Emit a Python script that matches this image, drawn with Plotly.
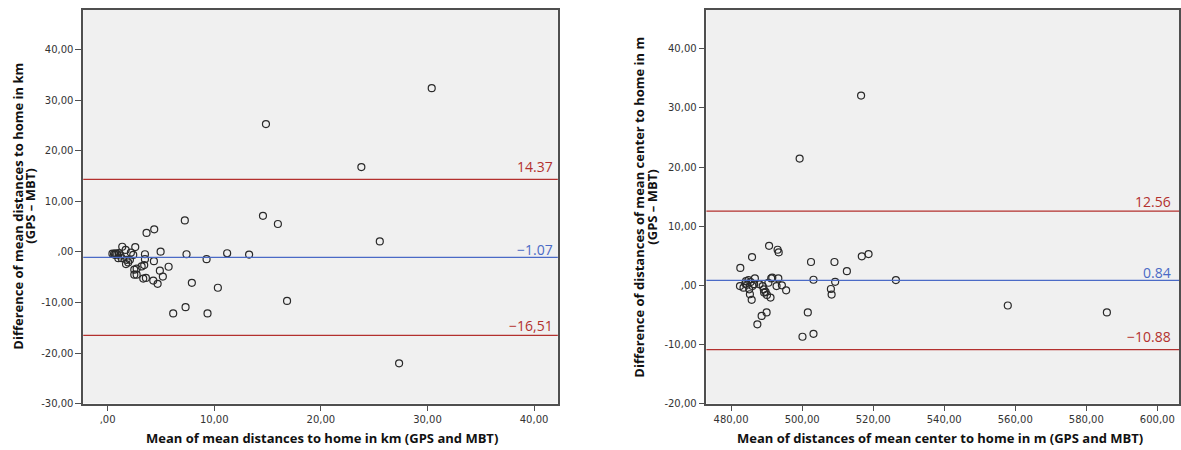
import plotly.graph_objects as go

# ---------------- data ----------------
left_mean = [0.45, 0.6, 0.75, 0.9, 1.05, 0.7, 1.2,
             1.37, 2.59, 1.69, 2.18, 2.4,
             1.0, 1.31, 1.78, 1.93, 1.72, 2.09,
             3.5, 3.5, 3.43, 3.19, 2.72, 2.5, 2.5, 2.72, 3.34, 3.59,
             4.34, 4.97, 3.65, 4.37,
             7.24, 14.57, 15.97,
             7.4, 9.28, 11.21, 13.27,
             4.9, 5.72, 5.18, 4.28, 4.69, 7.9, 10.34,
             7.31, 6.15, 9.37, 16.83,
             30.4, 14.85, 23.8, 25.53, 27.34]
left_diff = [-0.35, -0.4, -0.3, -0.45, -0.25, -0.6, -0.7,
             1.03, 0.97, 0.39, -0.14, -0.59,
             -1.24, -1.24, -1.56, -2.08, -2.41, -1.56,
             -0.46, -1.43, -2.6, -2.87, -3.32, -3.5, -4.49, -4.49, -5.27, -5.14,
             -1.83, 0.06, 3.76, 4.48,
             6.24, 7.15, 5.53,
             -0.46, -1.44, -0.26, -0.53,
             -3.7, -2.93, -4.88, -5.66, -6.31, -6.11, -7.09,
             -10.92, -12.16, -12.16, -9.69,
             32.4, 25.3, 16.8, 2.08, -22.04]

right_mean = [482.6, 485.9, 490.7, 493.1, 493.4, 502.5, 509.1, 512.6, 516.8, 518.7,
              503.2, 509.3, 508.1, 508.3, 501.6, 500.1, 503.2,
              487.4, 488.6, 490.0,
              482.5, 483.5, 484.2, 484.9, 485.5, 485.1, 485.3, 485.8, 486.7, 486.5,
              488.0, 488.9, 489.2, 489.3, 489.7, 490.1, 491.1, 490.5, 491.3, 491.6,
              493.3, 492.8, 494.3, 495.5, 484.0, 486.0, 484.5,
              516.6, 499.3, 526.4, 557.9, 585.8]
right_diff = [2.94, 4.78, 6.69, 6.02, 5.57, 3.95, 3.95, 2.39, 4.9, 5.28,
              0.94, 0.6, -0.62, -1.57, -4.58, -8.7, -8.2,
              -6.59, -5.18, -4.58,
              -0.12, -0.4, 0.72, 0.89, 0.55, -0.67, -1.51, -2.46, 1.17, 0.2,
              0.17, -0.12, -0.67, -1.23, -1.1, -1.62, -2.07, 0.44, 1.17, 1.3,
              1.17, -0.12, 0.0, -0.84, 0.3, -0.1, 0.1,
              32.1, 21.45, 0.89, -3.41, -4.58]

left_lines = [14.37, -1.07, -16.51]
left_labels = ["14.37", "\u22121.07", "\u221216,51"]
right_lines = [12.56, 0.84, -10.88]
right_labels = ["12.56", "0.84", "\u221210.88"]

left_xticks = [0, 10, 20, 30, 40]
left_xticktext = [",00", "10,00", "20,00", "30,00", "40,00"]
left_yticks = [-30, -20, -10, 0, 10, 20, 30, 40]
left_yticktext = ["-30,00", "-20,00", "-10,00", ",00", "10,00", "20,00", "30,00", "40,00"]
right_xticks = [480, 500, 520, 540, 560, 580, 600]
right_xticktext = ["480,00", "500,00", "520,00", "540,00", "560,00", "580,00", "600,00"]
right_yticks = [-20, -10, 0, 10, 20, 30, 40]
right_yticktext = ["-20,00", "-10,00", ",00", "10,00", "20,00", "30,00", "40,00"]

left_xtitle = "Mean of mean distances to home in km (GPS and MBT)"
left_ytitle = ["Difference of mean distances to home in km", "(GPS \u2013 MBT)"]
right_xtitle = "Mean of distances of mean center to home in m (GPS and MBT)"
right_ytitle = ["Difference of distances of mean center to home in m", "(GPS \u2013 MBT)"]

# ---------------- styling ----------------
W, H = 1181, 450
RED = "#B3302E"
BLUE = "#4A6AC6"
line_colors = [RED, BLUE, RED]
label_shift_left = [13, 8, 10]
label_shift_right = [10, 8, 13]
FRAME = "#4f4f4f"
TICKFONT = dict(family="DejaVu Sans", size=10, color="#333333")
TITLEFONT = dict(family="Open Sans", size=13, color="#111111")
LABELFONT = "Open Sans"

fig = go.Figure()
marker = dict(symbol="circle-open", size=7, color="#2a2a2a", line=dict(width=1.2, color="#2a2a2a"))
fig.add_trace(go.Scatter(x=left_mean, y=left_diff, mode="markers", marker=marker,
                         xaxis="x", yaxis="y", showlegend=False, hoverinfo="x+y"))
fig.add_trace(go.Scatter(x=right_mean, y=right_diff, mode="markers", marker=marker,
                         xaxis="x2", yaxis="y2", showlegend=False, hoverinfo="x+y"))

shapes = []
annotations = []
for xa, ya, vals, labs, shifts, xpos in [("x", "y", left_lines, left_labels, label_shift_left, 0.993),
                                         ("x2", "y2", right_lines, right_labels, label_shift_right, 0.988)]:
    for v, lab, c, s in zip(vals, labs, line_colors, shifts):
        shapes.append(dict(type="line", xref=xa + " domain", yref=ya, x0=0, x1=1, y0=v, y1=v,
                           line=dict(color=c, width=1.3), layer="above"))
        annotations.append(dict(xref=xa + " domain", yref=ya, x=xpos, y=v, text=lab, showarrow=False,
                                xanchor="right", yanchor="middle", yshift=s,
                                font=dict(family=LABELFONT, size=14, color=c)))

def px_x(p):
    return p / W

def px_y(p):
    return 1 - p / H

# axis titles
annotations.append(dict(xref="paper", yref="paper", x=px_x(322), y=px_y(443.5), text="<b>%s</b>" % left_xtitle,
                        showarrow=False, xanchor="center", yanchor="middle", font=TITLEFONT))
annotations.append(dict(xref="paper", yref="paper", x=px_x(941), y=px_y(443.5), text="<b>%s</b>" % right_xtitle,
                        showarrow=False, xanchor="center", yanchor="middle", font=TITLEFONT))
for xp, t in zip([18.5, 30.5], left_ytitle):
    annotations.append(dict(xref="paper", yref="paper", x=px_x(xp), y=px_y(209), text="<b>%s</b>" % t,
                            showarrow=False, textangle=-90, xanchor="center", yanchor="middle", font=TITLEFONT))
for xp, t in zip([640, 653], right_ytitle):
    annotations.append(dict(xref="paper", yref="paper", x=px_x(xp), y=px_y(210), text="<b>%s</b>" % t,
                            showarrow=False, textangle=-90, xanchor="center", yanchor="middle", font=TITLEFONT))

axis_common = dict(showline=True, linecolor=FRAME, linewidth=1.5, mirror=True, ticks="outside",
                   ticklen=6, tickwidth=1, tickcolor=FRAME, showgrid=False, zeroline=False,
                   tickfont=TICKFONT, fixedrange=True)

ydom = [1 - 409 / H, 1 - 10 / H]
fig.update_layout(
    width=W, height=H,
    margin=dict(l=0, r=0, t=0, b=0),
    paper_bgcolor="white",
    plot_bgcolor="#F0F0F0",
    showlegend=False,
    xaxis=dict(domain=[83.3 / W, 558.3 / W], range=[-2.29, 42.23], anchor="y",
               tickvals=left_xticks, ticktext=left_xticktext, **axis_common),
    yaxis=dict(domain=ydom, range=[-30, 47.9], anchor="x",
               tickvals=left_yticks, ticktext=left_yticktext, **axis_common),
    xaxis2=dict(domain=[707 / W, 1180 / W], range=[473.05, 606.1], anchor="y2",
                tickvals=right_xticks, ticktext=right_xticktext, **axis_common),
    yaxis2=dict(domain=ydom, range=[-20, 46.6], anchor="x2",
                tickvals=right_yticks, ticktext=right_yticktext, **axis_common),
    shapes=shapes,
    annotations=annotations,
)

fig.write_html("out.html")
